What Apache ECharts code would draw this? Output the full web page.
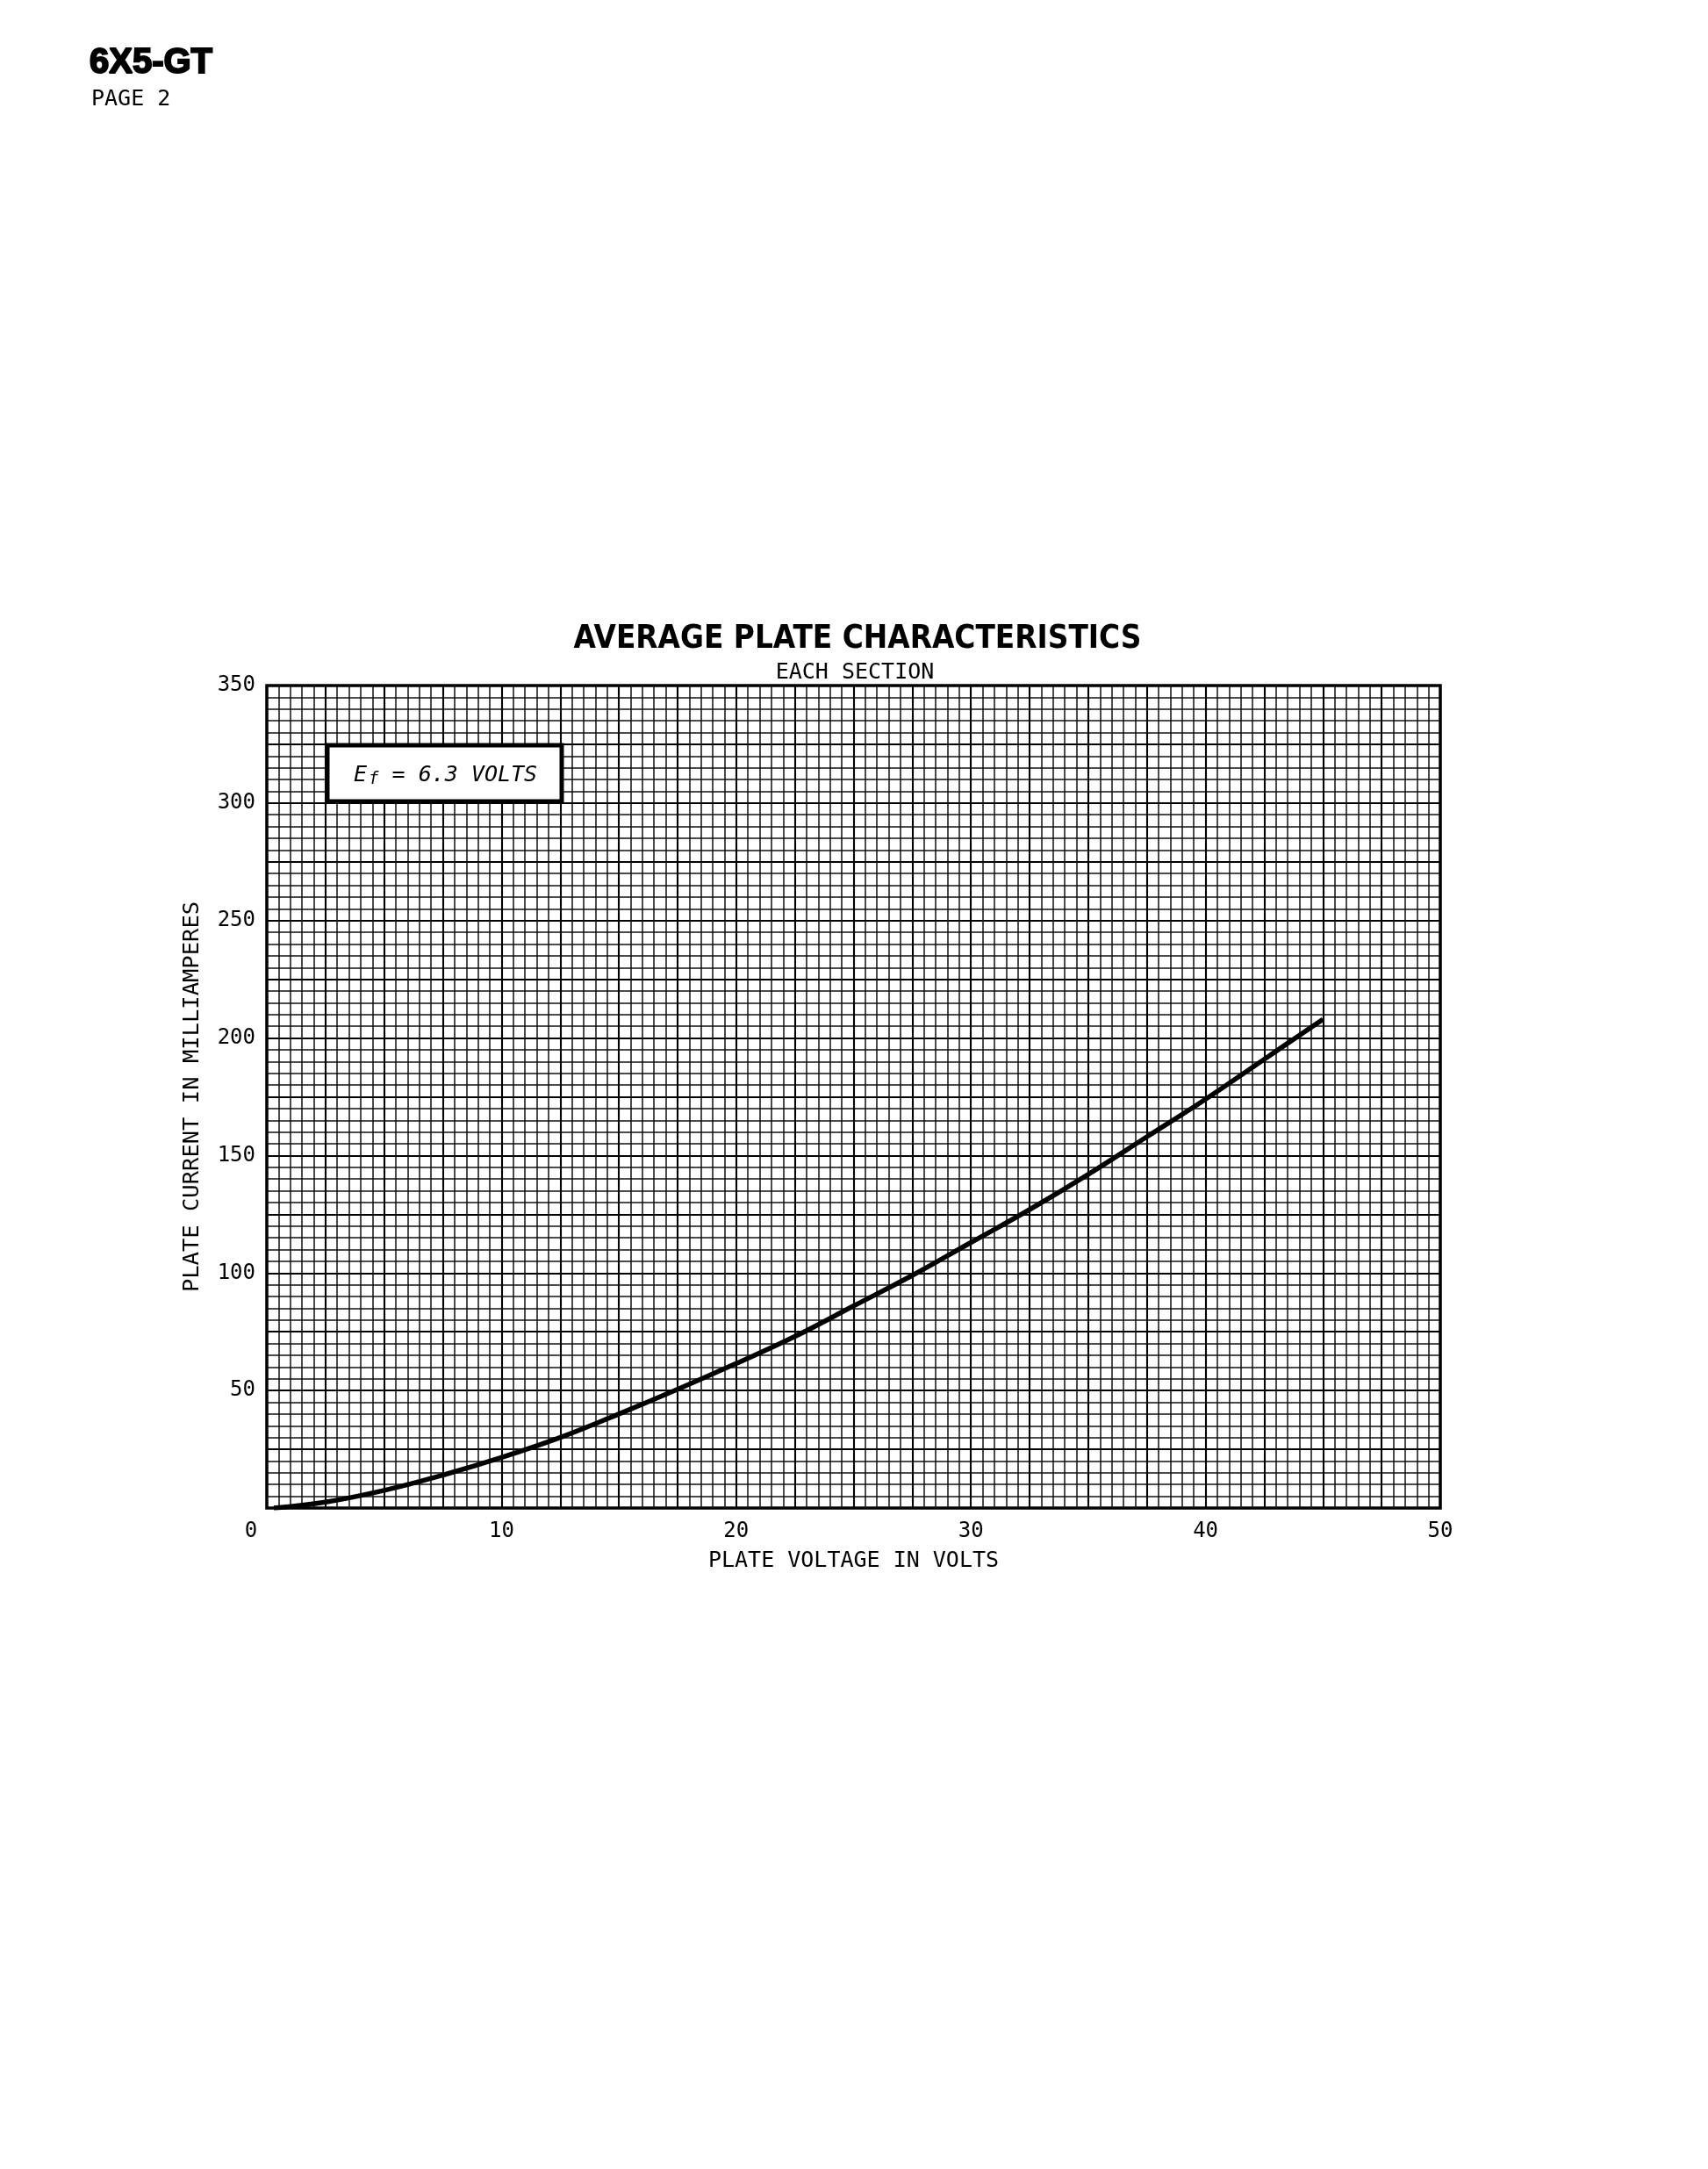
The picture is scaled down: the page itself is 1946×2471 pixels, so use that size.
<!DOCTYPE html>
<html>
<head>
<meta charset="utf-8">
<script src="https://cdn.jsdelivr.net/npm/echarts@6/dist/echarts.min.js"></script>
<style>
html,body{margin:0;padding:0;background:#fff;}
#c{width:1946px;height:2471px;}
</style>
</head>
<body>
<div id="c"></div>
<script>
// Data
var plateVoltage = [0.3, 2.5, 5, 7.5, 10, 12.5, 15, 17.5, 20, 22.5, 25, 27.5, 30, 32.5, 35, 37.5, 40, 42.5, 45];
var plateCurrent = [0, 2.5, 7.5, 14, 21.5, 30, 40, 50.5, 61.5, 73, 86, 99, 113, 127, 142, 158, 174, 191, 208];
var xTickLabels = [0, 10, 20, 30, 40, 50];
var yTickLabels = [50, 100, 150, 200, 250, 300, 350];

var chart = echarts.init(document.getElementById('c'), null, {renderer: 'canvas'});
var seriesData = plateVoltage.map(function (v, i) { return [v, plateCurrent[i]]; });

var lblFont = '"Liberation Sans", Arial, sans-serif';
var monoFont = '"DejaVu Sans Mono", "Liberation Mono", monospace';
var gl = {left: 304, top: 781, width: 1337, height: 937};

var option = {
  backgroundColor: '#ffffff',
  animation: false,
  grid: {
    left: gl.left, top: gl.top, width: gl.width, height: gl.height,
    containLabel: false, outerBoundsMode: 'none',
    show: true, borderColor: '#000', borderWidth: 3.5, backgroundColor: 'transparent'
  },
  xAxis: {
    type: 'value', min: 0, max: 50, interval: 2.5,
    name: 'PLATE VOLTAGE IN VOLTS', nameLocation: 'middle', nameGap: 48,
    nameTextStyle: {fontFamily: monoFont, fontSize: 25, color: '#000'},
    axisLine: {show: false},
    axisTick: {show: false},
    axisLabel: {
      margin: 15, color: '#000', fontFamily: monoFont, fontSize: 24,
      formatter: function (v) {
        if (xTickLabels.indexOf(v) < 0) return '';
        if (v === 0) return '{z|0}';
        return String(v);
      },
      rich: {z: {fontFamily: monoFont, fontSize: 24, color: '#000', padding: [0, 36, 0, 0]}}
    },
    splitLine: {show: true, lineStyle: {color: '#000', width: 2.1}},
    minorTick: {show: false, splitNumber: 5},
    minorSplitLine: {show: true, lineStyle: {color: '#111', width: 1.5}}
  },
  yAxis: {
    type: 'value', min: 0, max: 350, interval: 25,
    name: 'PLATE CURRENT IN MILLIAMPERES', nameLocation: 'middle', nameGap: 72, nameRotate: 90,
    nameTextStyle: {fontFamily: monoFont, fontSize: 25.5, color: '#000'},
    axisLine: {show: false},
    axisTick: {show: false},
    axisLabel: {
      margin: 13, color: '#000', fontFamily: monoFont, fontSize: 24,
      formatter: function (v) { return yTickLabels.indexOf(v) >= 0 ? String(v) : ''; }
    },
    splitLine: {show: true, lineStyle: {color: '#000', width: 2.1}},
    minorTick: {show: false, splitNumber: 5},
    minorSplitLine: {show: true, lineStyle: {color: '#111', width: 1.5}}
  },
  series: [{
    type: 'line', data: seriesData, smooth: 0.4, showSymbol: false, symbol: 'none',
    lineStyle: {color: '#000', width: 5.5}, z: 5
  }],
  graphic: [
    {type: 'text', x: 102, y: 72, style: {text: '6X5-GT', fontFamily: lblFont, fontWeight: 'bold', fontSize: 40,
      fill: '#000', stroke: '#000', lineWidth: 2, textAlign: 'left', textVerticalAlign: 'middle'}},
    {type: 'text', x: 104, y: 113, style: {text: 'PAGE 2', fontFamily: monoFont, fontSize: 25,
      fill: '#000', textAlign: 'left', textVerticalAlign: 'middle'}},
    {type: 'text', x: 977, y: 729, style: {text: 'AVERAGE PLATE CHARACTERISTICS',
      fontFamily: '"Liberation Sans Narrow", "DejaVu Sans Condensed", "Liberation Sans", sans-serif',
      fontWeight: 'bold', fontSize: 36.5, fill: '#000', textAlign: 'center', textVerticalAlign: 'middle'}},
    {type: 'text', x: 974, y: 766, style: {text: 'EACH SECTION', fontFamily: monoFont, fontSize: 25,
      fill: '#000', textAlign: 'center', textVerticalAlign: 'middle'}},
    {type: 'rect', z: 10, shape: {x: 373, y: 849, width: 267, height: 64},
      style: {fill: '#fff', stroke: '#000', lineWidth: 5}},
    {type: 'text', z: 11, x: 403, y: 883, style: {
      text: '{e|E}{s|f}{t| = 6.3 VOLTS}',
      textAlign: 'left', textVerticalAlign: 'middle',
      rich: {
        e: {fontFamily: monoFont, fontStyle: 'italic', fontSize: 25, fill: '#000', color: '#000'},
        s: {fontFamily: monoFont, fontStyle: 'italic', fontSize: 19, fill: '#000', color: '#000', padding: [10, 0, 0, 2]},
        t: {fontFamily: monoFont, fontStyle: 'italic', fontSize: 25, fill: '#000', color: '#000'}
      }
    }}
  ]
};
chart.setOption(option);
</script>
</body>
</html>
